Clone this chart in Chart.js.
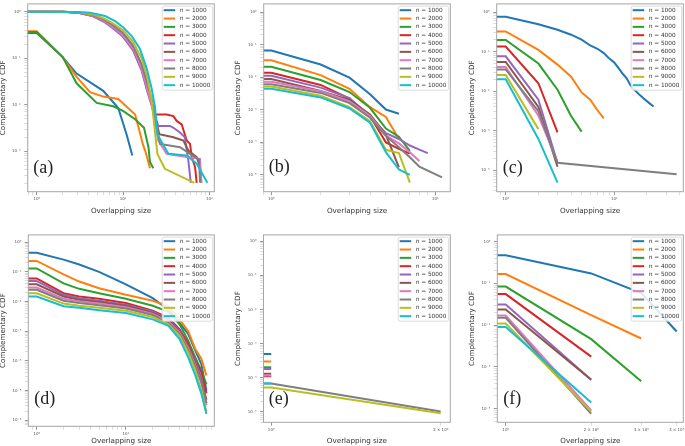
<!DOCTYPE html>
<html>
<head>
<meta charset="utf-8">
<title>Complementary CDF of overlapping size</title>
<script src="https://cdn.jsdelivr.net/npm/chart.js@4.4.1/dist/chart.umd.min.js"></script>
<style>
    html, body { margin: 0; padding: 0; background: #fff; }
    body { width: 685px; height: 446px; position: relative; overflow: hidden; }
    .panel { position: absolute; }
    .panel canvas { display: block; }
</style>
</head>
<body>
<div class="panel" id="wrapA"><canvas id="chartA"></canvas></div>
<div class="panel" id="wrapB"><canvas id="chartB"></canvas></div>
<div class="panel" id="wrapC"><canvas id="chartC"></canvas></div>
<div class="panel" id="wrapD"><canvas id="chartD"></canvas></div>
<div class="panel" id="wrapE"><canvas id="chartE"></canvas></div>
<div class="panel" id="wrapF"><canvas id="chartF"></canvas></div>
<script>
// series n values and matplotlib default colours
const nValues = [1000, 2000, 3000, 4000, 5000, 6000, 7000, 8000, 9000, 10000];
const lineColors = ['#1f77b4', '#ff7f0e', '#2ca02c', '#d62728', '#9467bd',
                    '#8c564b', '#e377c2', '#7f7f7f', '#bcbd22', '#17becf'];

// (a) one x list per series
const aX = [
    [0.5, 1, 2, 2.9, 5.9, 8.8, 11, 12.8],
    [0.5, 1, 2, 2.9, 4.15, 5.9, 8.8, 13.8, 15.7, 16.9, 18.3, 20.5],
    [0.5, 1, 2, 2.9, 4.95, 7.7, 10.1, 13.8, 17.5, 19.7, 20.5, 22.4],
    [0.5, 2, 3, 4.5, 6, 7.7, 10, 13, 16.4, 19, 21.5, 23.5, 32, 38.3, 41.8, 47.8, 54.6, 59.7, 62.4, 68.2, 71.3],
    [0.5, 2, 3, 4.5, 6, 7.7, 10, 13, 16.4, 19, 21.5, 25.6, 35, 38.3, 45.7, 52, 57, 61],
    [0.5, 2, 3, 4.5, 6, 7.7, 10, 13, 16.4, 19, 21.5, 26.3, 38.3, 50, 57, 71.3, 78, 81],
    [0.5, 2, 3, 4.5, 6, 7.7, 10, 13, 16.4, 19, 21.5, 25.6, 32, 54.6, 78, 80],
    [0.5, 2, 3, 4.5, 6, 7.7, 10, 13, 16.4, 19, 21.5, 26.8, 45.7, 59.7, 76, 78],
    [0.5, 2, 3, 4.5, 6, 7.7, 10, 13, 16.4, 19, 21.5, 23.5, 25, 30.5, 67],
    [0.5, 3, 4.15, 6.2, 8.1, 10.1, 12.6, 15.7, 18.8, 21.4, 23.5, 25, 33.5, 54.6, 71.3, 94.8]
];
const aY = [
    [0.35, 0.35, 0.106, 0.047, 0.02, 0.0085, 0.0023, 0.00081],
    [0.38, 0.38, 0.106, 0.04, 0.0187, 0.015, 0.0133, 0.0062, 0.0025, 0.00144, 0.00095, 0.00043],
    [0.37, 0.37, 0.106, 0.029, 0.011, 0.0093, 0.0073, 0.0049, 0.0032, 0.00122, 0.00059, 0.00043],
    [1, 1, 0.96, 0.81, 0.63, 0.46, 0.3, 0.16, 0.06, 0.022, 0.01, 0.0062, 0.0062, 0.0057, 0.0045, 0.0038, 0.0017, 0.00144, 0.00075, 0.00046, 0.00021],
    [1, 1, 0.95, 0.8, 0.61, 0.44, 0.29, 0.15, 0.055, 0.02, 0.0095, 0.0035, 0.0035, 0.0032, 0.00253, 0.002, 0.00064, 0.00021],
    [1, 1, 0.97, 0.83, 0.65, 0.48, 0.32, 0.17, 0.065, 0.025, 0.011, 0.00233, 0.002, 0.0017, 0.00104, 0.00075, 0.00046, 0.00021],
    [1, 1, 0.96, 0.82, 0.64, 0.47, 0.31, 0.165, 0.062, 0.023, 0.01, 0.0017, 0.00088, 0.00075, 0.00069, 0.00021],
    [1, 1, 0.97, 0.85, 0.68, 0.51, 0.35, 0.19, 0.075, 0.03, 0.013, 0.00144, 0.00122, 0.00088, 0.00066, 0.00021],
    [1, 1, 0.98, 0.88, 0.72, 0.56, 0.4, 0.23, 0.1, 0.04, 0.012, 0.0025, 0.00088, 0.00042, 0.00021],
    [1, 0.99, 0.95, 0.81, 0.63, 0.46, 0.3, 0.16, 0.06, 0.023, 0.0087, 0.0023, 0.00088, 0.00081, 0.00054, 0.00021]
];

// (b) shared x
const bX = [0.5, 1, 2, 3, 4, 5, 6, 7, 8, 9, 10, 11];
const bY = [
    [0.066, 0.066, 0.0245, 0.0097, 0.003, 0.00102, 0.00076],
    [0.033, 0.033, 0.0116, 0.0044, 0.0012, 0.0006, 0.000127],
    [0.021, 0.021, 0.0082, 0.0035, 0.00115, 0.000266, 0.00015, 0.000055],
    [0.0137, 0.0137, 0.0058, 0.0022, 0.00064, 0.0001, 0.000063, 0.000045],
    [0.0111, 0.0111, 0.0048, 0.0023, 0.00064, 0.00019, 0.000127, 0.00008, 0.00006, 0.000047],
    [0.0088, 0.0088, 0.0038, 0.002, 0.00072, 0.00017, 0.000017],
    [0.0073, 0.0073, 0.0037, 0.0018, 0.00064, 0.00016, 0.000093, 0.00005, 0.000027],
    [0.0061, 0.0061, 0.0033, 0.0016, 0.00057, 0.00016, 0.000071, 0.000035, 0.000018, null, null, 0.0000084],
    [0.0052, 0.0052, 0.0027, 0.0012, 0.00045, 0.000059, 0.000047, 0.0000058],
    [0.0044, 0.0044, 0.0024, 0.0011, 0.0004, 0.00005, 0.0000147, 0.00001]
];

// (c) one x list per series
const cX = [
    [0.5, 1, 2, 3, 4, 5, 6, 7, 8, 9, 10, 11, 12, 13, 14, 15, 17, 19, 21, 23],
    [0.5, 1, 2, 3, 4, 5, 6, 7, 8],
    [0.5, 1, 2, 3, 4, 5],
    [0.5, 1, 2, 3],
    [0.5, 1, 2, 3],
    [0.5, 1, 2, 3],
    [0.5, 1, 2, 3],
    [0.5, 1, 2, 3, 37.5],
    [0.5, 1, 2],
    [0.5, 1, 2, 3]
];
const cY = [
    [0.766, 0.766, 0.494, 0.357, 0.268, 0.201, 0.143, 0.118, 0.092, 0.0667, 0.053, 0.0376, 0.0272, 0.0212, 0.0145, 0.0115, 0.0082, 0.0063, 0.005, 0.0041],
    [0.324, 0.324, 0.111, 0.047, 0.0233, 0.0093, 0.0061, 0.0033, 0.00207],
    [0.198, 0.198, 0.05, 0.0109, 0.00236, 0.00095],
    [0.135, 0.135, 0.0159, 0.00091],
    [0.076, 0.076, 0.0061, 0.00015],
    [0.055, 0.055, 0.004, 0.000123],
    [0.041, 0.041, 0.0024, 0.000163],
    [0.0355, 0.0355, 0.0031, 0.000155, 0.000079],
    [0.0257, 0.0257, 0.0011],
    [0.02, 0.02, 0.00062, 0.000049]
];

// (d) shared x
const dX = [0.5, 1, 2, 3, 5, 10, 20, 30, 40, 50, 60, 70, 80];
const dY = [
    [0.44, 0.44, 0.258, 0.176, 0.1, 0.038, 0.013, 0.0053, 0.0019, 0.00079, 0.00022, 0.000079, 0.00001],
    [0.233, 0.233, 0.082, 0.047, 0.028, 0.0168, 0.0106, 0.0069, 0.0025, 0.001, 0.00025, 0.00012, 0.000032],
    [0.13, 0.13, 0.041, 0.0267, 0.0191, 0.0124, 0.0072, 0.0045, 0.0017, 0.00047, 0.00013, 0.000048, 0.000016],
    [0.06, 0.06, 0.019, 0.0148, 0.0124, 0.0089, 0.0049, 0.0028, 0.00115, 0.00037, 0.0001, 0.000042, 0.000008],
    [0.049, 0.049, 0.0168, 0.013, 0.0106, 0.0078, 0.0045, 0.0025, 0.00102, 0.0003, 0.00009, 0.000028, 0.0000037],
    [0.038, 0.038, 0.0148, 0.0115, 0.0096, 0.0072, 0.0041, 0.0023, 0.00096, 0.00028, 0.000079, 0.000022, 0.0000049],
    [0.0295, 0.0295, 0.0124, 0.0101, 0.0085, 0.0064, 0.0038, 0.0021, 0.00087, 0.00026, 0.00007, 0.000019, 0.0000032],
    [0.0247, 0.0247, 0.0106, 0.0089, 0.0075, 0.0058, 0.0035, 0.0019, 0.00079, 0.00023, 0.000065, 0.000019, 0.0000037],
    [0.019, 0.019, 0.0085, 0.0072, 0.0061, 0.0049, 0.003, 0.0017, 0.0007, 0.00019, 0.000048, 0.00001, 0.000002],
    [0.0148, 0.0148, 0.0069, 0.0061, 0.0051, 0.0041, 0.0025, 0.0015, 0.00054, 0.00013, 0.000032, 0.000008, 0.0000016]
];

// (e) shared x
const eX = [0.5, 1, 2];
const eY = [
    [0.000496, 0.000496],
    [0.000298, 0.000298],
    [0.000204, 0.000204],
    [0.00011, 0.00011],
    [0.00018, 0.00018],
    [0.000131, 0.000131],
    [0.000117, 0.000117],
    [0.000068, 0.000068, 0.0000102],
    [0.000052, 0.000052, 0.0000091],
    [0.000068, 0.000068]
];

// (f) shared x
const fX = [0.5, 1, 2, 3, 4];
const fY = [
    [0.467, 0.467, 0.172, 0.058, 0.007],
    [0.166, 0.166, 0.0172, 0.00475],
    [0.0834, 0.0834, 0.00458, 0.00045],
    [0.055, 0.055, 0.00175],
    [0.0308, 0.0308, 0.00049],
    [0.0235, 0.0235, 0.00049],
    [0.0169, 0.0169, 0.00009],
    [0.0149, 0.0149, 0.000075],
    [0.0108, 0.0108, 0.000085],
    [0.009, 0.009, 0.00014]
];

// page layout of each panel (plot box in page pixels, axis ranges)
const panels = [
    { id: 'A', tag: '(a)', xs: aX, ys: aY, xMin: 0.787, xMax: 114, yMin: 1.35e-4, yMax: 1.48,
      box: { L: 27.7, R: 214.3, T: 1, B: 191.7 }, yTitleX: 3.3, xTitleY: 210.7, tagX: 33.3, tagY: 168.3, xMinorLabels: false },
    { id: 'B', tag: '(b)', xs: bX, ys: bY, xMin: 0.899, xMax: 12.35, yMin: 3.06e-6, yMax: 1.78,
      box: { L: 263.7, R: 450.3, T: 1, B: 191.7 }, yTitleX: 238, xTitleY: 210.7, tagX: 268.7, tagY: 167.7, xMinorLabels: false },
    { id: 'C', tag: '(c)', xs: cX, ys: cY, xMin: 0.826, xMax: 43.2, yMin: 2.88e-5, yMax: 1.61,
      box: { L: 496.7, R: 683.3, T: 1, B: 191.7 }, yTitleX: 472.3, xTitleY: 210.7, tagX: 502.7, tagY: 168.3, xMinorLabels: false },
    { id: 'D', tag: '(d)', xs: dX, ys: dY, xMin: 0.805, xMax: 98, yMin: 6.2e-7, yMax: 1.76,
      box: { L: 28.3, R: 214.3, T: 232.3, B: 426.3 }, yTitleX: 3.3, xTitleY: 441.3, tagX: 34.3, tagY: 399.7, xMinorLabels: false },
    { id: 'E', tag: '(e)', xs: eX, ys: eY, xMin: 0.969, xMax: 2.08, yMin: 4.94e-6, yMax: 1.53,
      box: { L: 263.5, R: 450.3, T: 232.3, B: 422.3 }, yTitleX: 238, xTitleY: 441.3, tagX: 268.7, tagY: 399.7, xMinorLabels: true },
    { id: 'F', tag: '(f)', xs: fX, ys: fY, xMin: 0.934, xMax: 4.22, yMin: 4.67e-5, yMax: 1.44,
      box: { L: 497.3, R: 683.3, T: 232.3, B: 422.3 }, yTitleX: 472.3, xTitleY: 441.3, tagX: 503.3, tagY: 399.7, xMinorLabels: true }
];

const TITLE_SIZE = 7.2;
const SUP = { '-': '⁻', '0': '⁰', '1': '¹', '2': '²', '3': '³', '4': '⁴', '5': '⁵', '6': '⁶', '7': '⁷', '8': '⁸', '9': '⁹' };

function sup(k) {
    return String(k).split('').map(c => SUP[c]).join('');
}

function splitLog(v) {
    const k = Math.floor(Math.log10(v) + 1e-9);
    const m = Math.round(v / Math.pow(10, k));
    return { k, m };
}

function logTicks(min, max) {
    const out = [];
    for (let k = Math.floor(Math.log10(min)); k <= Math.ceil(Math.log10(max)); k++) {
        for (let m = 1; m <= 9; m++) {
            const v = m * Math.pow(10, k);
            if (v >= min && v <= max) out.push({ value: v });
        }
    }
    return out;
}

function tickLabel(v, withMinor) {
    const { k, m } = splitLog(v);
    if (m === 1) return '10' + sup(k);
    return withMinor ? m + ' × 10' + sup(k) : '';
}

function isMajor(ctx) {
    return ctx.tick && splitLog(ctx.tick.value).m === 1;
}

function geometry(p) {
    const half = TITLE_SIZE * 1.2 / 2;
    const cl = Math.floor(p.yTitleX - half);
    const ct = Math.floor(p.box.T - 3);
    const cr = Math.ceil(p.box.R + 10);
    const cb = Math.ceil(p.xTitleY + half);
    return {
        cl, ct, w: cr - cl, h: cb - ct,
        wy: p.box.L - cl,
        hx: cb - p.box.B,
        padT: p.box.T - ct,
        padR: cr - p.box.R,
        ytPad: p.yTitleX - half - cl,
        xtPad: cb - (p.xTitleY + half)
    };
}

// frame, legend box inside the plot and the panel letter
const panelDecor = {
    id: 'panelDecor',
    afterDatasetsDraw(chart, args, opts) {
        const { ctx, chartArea: a } = chart;
        ctx.save();
        ctx.strokeStyle = '#a6a6a6';
        ctx.lineWidth = 1;
        ctx.strokeRect(a.left, a.top, a.right - a.left, a.bottom - a.top);

        const bw = 50.4, bh = 84;
        const bx = a.right - 1.7 - bw, by = a.top + 2.3;
        ctx.fillStyle = 'rgba(255,255,255,0.85)';
        ctx.strokeStyle = '#d4d4d4';
        ctx.lineWidth = 0.8;
        ctx.beginPath();
        if (ctx.roundRect) ctx.roundRect(bx, by, bw, bh, 2); else ctx.rect(bx, by, bw, bh);
        ctx.fill();
        ctx.stroke();

        ctx.textBaseline = 'middle';
        ctx.textAlign = 'left';
        chart.data.datasets.forEach((ds, i) => {
            const ry = by + 4 + 8.33 * i;
            ctx.strokeStyle = ds.borderColor;
            ctx.lineWidth = 2;
            ctx.beginPath();
            ctx.moveTo(bx + 1.5, ry);
            ctx.lineTo(bx + 13, ry);
            ctx.stroke();
            ctx.fillStyle = '#333';
            ctx.font = 'italic 5.8px "DejaVu Sans"';
            ctx.fillText('n', bx + 17.5, ry);
            const w = ctx.measureText('n').width;
            ctx.font = '5.8px "DejaVu Sans"';
            ctx.fillText(' = ' + nValues[i], bx + 17.5 + w, ry);
        });

        ctx.fillStyle = '#222';
        ctx.font = '18px "Liberation Serif"';
        ctx.fillText(opts.tag, opts.tagX, opts.tagY);
        ctx.restore();
    }
};

function axisOptions(p, g, horizontal) {
    const min = horizontal ? p.xMin : p.yMin;
    const max = horizontal ? p.xMax : p.yMax;
    const withMinor = horizontal && p.xMinorLabels;
    return {
        type: 'logarithmic',
        position: horizontal ? 'bottom' : 'left',
        min, max,
        bounds: 'data',
        afterFit: s => {
            if (horizontal) s.height = g.hx; else s.width = g.wy;
        },
        afterBuildTicks: s => { s.ticks = logTicks(min, max); },
        ticks: {
            autoSkip: false,
            maxRotation: 0,
            minRotation: 0,
            padding: horizontal ? 1.5 : 3.5,
            color: '#555',
            font: { size: 4, family: 'DejaVu Sans' },
            callback: v => tickLabel(v, withMinor)
        },
        grid: {
            drawOnChartArea: false,
            drawTicks: true,
            tickLength: 3.5,
            tickColor: ctx => isMajor(ctx) ? '#8c8c8c' : '#bbbbbb',
            tickWidth: ctx => isMajor(ctx) ? 0.9 : 0.5
        },
        border: { display: false },
        title: {
            display: true,
            text: horizontal ? 'Overlapping size' : 'Complementary CDF',
            color: '#333',
            font: { size: TITLE_SIZE, family: 'DejaVu Sans' },
            padding: horizontal ? { top: 0, bottom: g.xtPad } : { top: g.ytPad, bottom: 0 }
        }
    };
}

function buildPanel(p) {
    const g = geometry(p);
    const wrap = document.getElementById('wrap' + p.id);
    wrap.style.left = g.cl + 'px';
    wrap.style.top = g.ct + 'px';
    const canvas = document.getElementById('chart' + p.id);
    canvas.width = g.w;
    canvas.height = g.h;
    canvas.style.width = g.w + 'px';
    canvas.style.height = g.h + 'px';

    const shared = !Array.isArray(p.xs[0]);
    const datasets = p.ys.map((ys, i) => {
        const xs = shared ? p.xs : p.xs[i];
        return {
            label: 'n = ' + nValues[i],
            data: ys.map((y, j) => ({ x: xs[j], y })),
            borderColor: lineColors[i],
            backgroundColor: lineColors[i],
            borderWidth: 2,
            pointRadius: 0,
            pointHoverRadius: 0,
            tension: 0,
            fill: false,
            spanGaps: true,
            order: nValues.length - i
        };
    });

    return new Chart(canvas.getContext('2d'), {
        type: 'line',
        data: { datasets },
        options: {
            responsive: false,
            animation: false,
            parsing: true,
            layout: { autoPadding: false, padding: { left: 0, top: g.padT, right: g.padR, bottom: 0 } },
            plugins: {
                legend: { display: false },
                tooltip: { enabled: false },
                panelDecor: { tag: p.tag, tagX: p.tagX - g.cl, tagY: p.tagY - g.ct }
            },
            scales: {
                x: axisOptions(p, g, true),
                y: axisOptions(p, g, false)
            }
        },
        plugins: [panelDecor]
    });
}

panels.forEach(buildPanel);
</script>
</body>
</html>
